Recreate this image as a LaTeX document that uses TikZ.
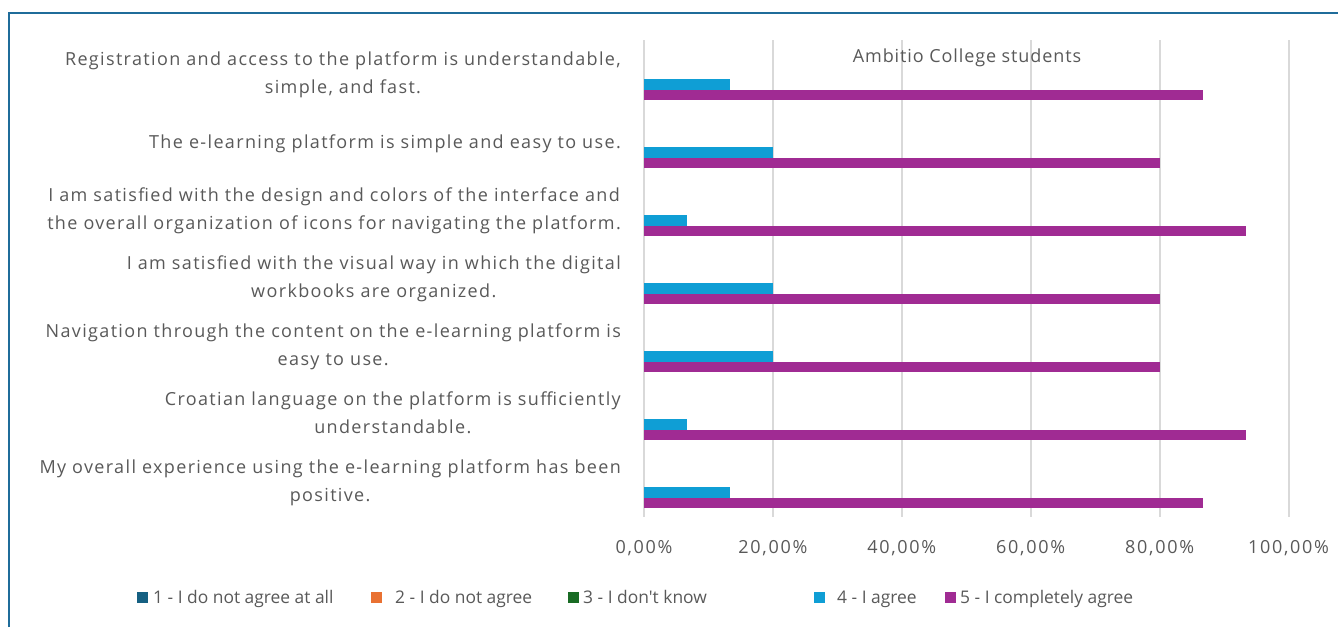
\documentclass[tikz,border=0pt]{standalone}
\usepackage{fontspec}
\setmainfont{Open Sans}
\newfontfamily\labfont[LetterSpace=7.5]{Open Sans}
\newfontfamily\tickfont[LetterSpace=9.5]{Open Sans}
\newfontfamily\titfont[LetterSpace=5]{Open Sans}
\newfontfamily\legfont[Ligatures=TeXOff]{Open Sans}
\definecolor{cA}{HTML}{156082}
\definecolor{cB}{HTML}{E97132}
\definecolor{cC}{HTML}{196B24}
\definecolor{cD}{HTML}{0F9ED5}
\definecolor{cE}{HTML}{A02B93}
\definecolor{txt}{HTML}{595959}
\definecolor{gridc}{HTML}{D9D9D9}
\definecolor{framec}{HTML}{1F6C9A}
\begin{document}
\begin{tikzpicture}[x=1pt,y=-1pt,
  lab/.style={font=\labfont\fontsize{18}{28}\selectfont, text=txt, align=center, anchor=base east, inner sep=0pt},
  tick/.style={font=\tickfont\fontsize{18}{20}\selectfont, text=txt, anchor=base, inner sep=0pt},
  leg/.style={font=\legfont\fontsize{17.4}{20}\selectfont, text=txt, anchor=base west, inner sep=0pt},
  sq/.style={minimum size=11pt, inner sep=0pt, draw=none},
  gridline/.style={gridc, line width=2pt}]
\useasboundingbox (0,0) rectangle (1338,627);
\fill[white] (0,0) rectangle (1338,627);
\draw[framec, line width=2pt] (9,627) -- (9,13) -- (1338,13);
% grid and ticks
\foreach \i/\t in {0/{0,00\%},1/{20,00\%},2/{40,00\%},3/{60,00\%},4/{80,00\%},5/{100,00\%}}{
  \draw[gridline] ({644+128.9*\i},40) -- ({644+128.9*\i},517);
  \node[tick] (tick\i) at ({644+128.9*\i},553) {\t};
}
\node[font=\titfont\fontsize{18}{20}\selectfont, text=txt, inner sep=0pt, anchor=base] (title) at (967,62) {Ambitio College students};
% bars
\foreach \k/\b/\p in {0/13.33/86.67,1/20/80,2/6.67/93.33,3/20/80,4/20/80,5/6.67/93.33,6/13.33/86.67}{
  \fill[cD] (644,{79+68*\k}) rectangle ({644+6.445*\b},{89.5+68*\k});
  \fill[cE] (644,{89.5+68*\k}) rectangle ({644+6.445*\p},{100+68*\k});
}
% labels (base anchor = baseline of the last line)
\node[lab] (l1) at (621,93.5) {Registration and access to the platform is understandable,\\simple, and fast.};
\node[lab] (l2) at (621,148.5) {The e-learning platform is simple and easy to use.};
\node[lab] (l3) at (621,229.5) {I am satisfied with the design and colors of the interface and\\the overall organization of icons for navigating the platform.};
\node[lab] (l4) at (621,297.5) {I am satisfied with the visual way in which the digital\\workbooks are organized.};
\node[lab] (l5) at (621,365.5) {Navigation through the content on the e-learning platform is\\easy to use.};
\node[lab] (l6) at (621,433.5) {Croatian language on the platform is sufficiently\\understandable.};
\node[lab] (l7) at (621,501.5) {My overall experience using the e-learning platform has been\\positive.};
% legend
\node[sq, fill=cA] (s1) at (142.5,597) {};
\node[leg] (g1) at (153,603.5) {1 - I do not agree at all};
\node[sq, fill=cB] (s2) at (376.5,597) {};
\node[leg] (g2) at (395,603.5) {2 - I do not agree};
\node[sq, fill=cC] (s3) at (573.5,597) {};
\node[leg] (g3) at (583,603.5) {3 - I don't know};
\node[sq, fill=cD] (s4) at (819.5,597) {};
\node[leg] (g4) at (837,603.5) {4 - I agree};
\node[sq, fill=cE] (s5) at (950.5,597) {};
\node[leg] (g5) at (960,603.5) {5 - I completely agree};
\end{tikzpicture}
\end{document}
